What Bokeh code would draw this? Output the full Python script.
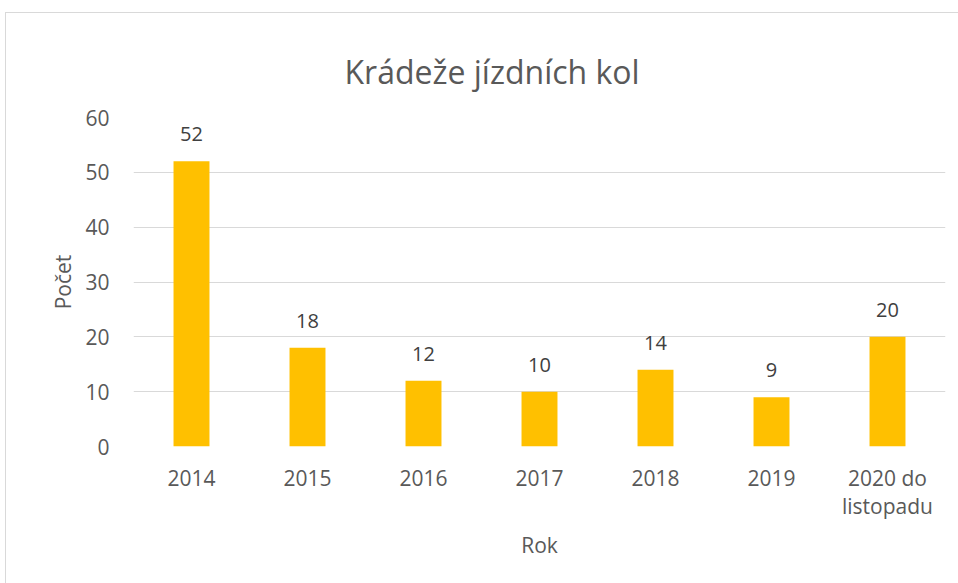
from bokeh.plotting import figure
from bokeh.models import ColumnDataSource, Range1d, FixedTicker, Title
from bokeh.embed import file_html
from bokeh.resources import INLINE
from bokeh.core.properties import value

categories = ["2014", "2015", "2016", "2017", "2018", "2019", "2020 do\nlistopadu"]
counts = [52, 18, 12, 10, 14, 9, 20]
y_ticks = [0, 10, 20, 30, 40, 50, 60]

FONT = "Open Sans"
src = ColumnDataSource(dict(cat=categories, val=counts, lbl=[str(v) for v in counts]))

p = figure(x_range=categories, y_range=Range1d(0, 60), width=960, height=580,
           output_backend="svg", toolbar_location=None,
           margin=(12, 0, 0, 5),
           styles={"border-top": "1px solid #d9d9d9", "border-left": "1px solid #d9d9d9"},
           min_border_left=127, min_border_right=21, min_border_top=104, min_border_bottom=147)
p.outline_line_color = None
p.background_fill_color = "white"
p.border_fill_color = "white"

p.vbar(x="cat", top="val", width=0.31, source=src, fill_color="#FFC000", line_color=None)
p.text(x="cat", y="val", text="lbl", source=src, text_align="center", text_baseline="bottom",
       y_offset=-20, text_font=value(FONT), text_font_size="20px", text_color="#404040")

p.yaxis.ticker = FixedTicker(ticks=y_ticks)
p.ygrid.grid_line_color = "#d9d9d9"
p.xgrid.grid_line_color = None
for ax in (p.xaxis[0], p.yaxis[0]):
    ax.axis_line_color = None
    ax.major_tick_line_color = None
    ax.minor_tick_line_color = None
    ax.major_label_text_font = FONT
    ax.major_label_text_font_size = "21px"
    ax.major_label_text_color = "#595959"
    ax.axis_label_text_font = FONT
    ax.axis_label_text_font_size = "21px"
    ax.axis_label_text_color = "#595959"
    ax.axis_label_text_font_style = "normal"
p.xaxis.major_label_text_line_height = 1.0
p.yaxis.axis_label = "Počet"
p.xaxis.axis_label = "Rok"
p.yaxis.major_label_standoff = 18
p.yaxis.axis_label_standoff = 5
p.xaxis.major_label_standoff = 11
p.xaxis.axis_label_standoff = 8

p.title = Title(text="Krádeže jízdních kol", align="left", offset=211, standoff=46,
                vertical_align="top",
                text_font=FONT, text_font_size="32px", text_font_style="normal",
                text_color="#595959")

open("out.html", "w").write(file_html(p, INLINE))
